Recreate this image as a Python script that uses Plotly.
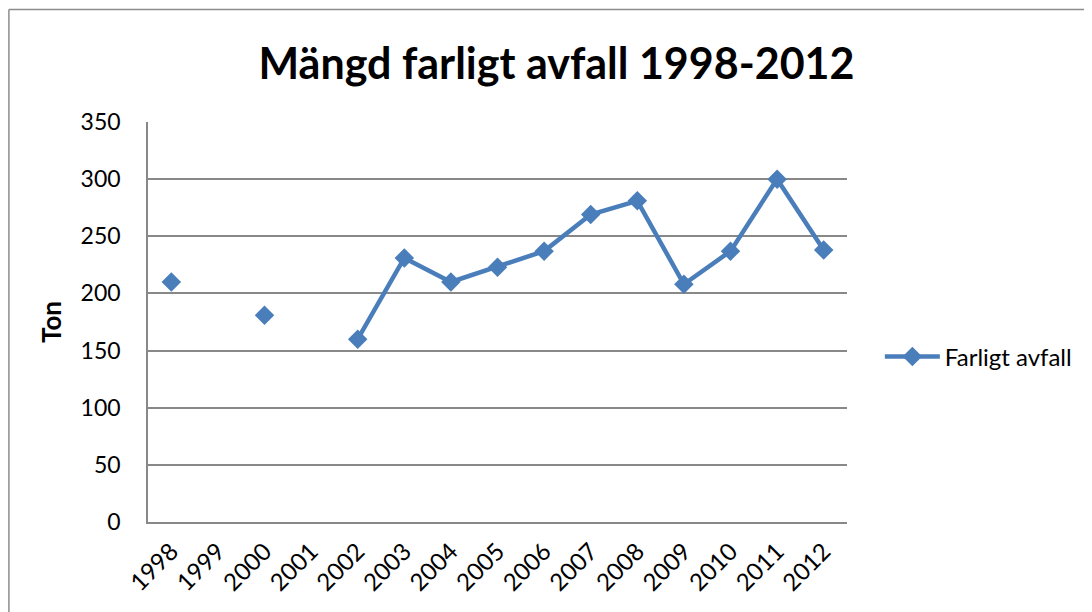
import plotly.graph_objects as go

years = [str(y) for y in range(1998, 2013)]
values = [210, None, 181, None, 160, 231, 210, 223, 237, 269, 281, 208, 237, 300, 238]
series_name = "Farligt avfall"
title_text = "Mängd farligt avfall 1998-2012"
y_title = "Ton"

FONT = "Lato, 'Open Sans', sans-serif"
BLUE = "#4A7EBB"
GRID = "#888888"
FRAME = "#8C8C8C"

fig = go.Figure()
fig.add_trace(go.Scatter(
    x=years, y=values, name=series_name, mode="lines+markers",
    connectgaps=False,
    line=dict(color=BLUE, width=4.5),
    marker=dict(symbol="diamond", size=15, color=BLUE),
))

fig.update_layout(
    width=1092, height=612,
    paper_bgcolor="white", plot_bgcolor="white",
    margin=dict(l=140, r=253, t=114, b=98),
    title=dict(text="<b>" + title_text + "</b>", x=0.5023, xanchor="center",
               y=0.908, yanchor="middle",
               font=dict(family=FONT, size=43, color="black")),
    font=dict(family=FONT, color="black"),
    showlegend=True,
    legend=dict(x=1.047, y=0.4125, xanchor="left", yanchor="middle",
                font=dict(size=24, color="black"), bgcolor="rgba(0,0,0,0)",
                itemwidth=55),
    xaxis=dict(type="category", range=[-0.5, 14.5], showgrid=False,
               showline=True, linecolor=GRID, linewidth=1.5,
               tickangle=-45, tickfont=dict(size=24, color="black"),
               ticks="outside", ticklen=4, tickcolor="rgba(0,0,0,0)", zeroline=False),
    yaxis=dict(range=[0, 350], dtick=50, showgrid=True, gridcolor=GRID,
               gridwidth=1.5, showline=True, linecolor=GRID, linewidth=1.5,
               ticks="", ticklabelstandoff=21,
               tickfont=dict(size=23, color="black"), zeroline=False,
               title=dict(text="<b>" + y_title + "</b>", font=dict(size=26, color="black"),
                          standoff=12)),
    shapes=[
        dict(type="line", xref="paper", yref="paper", x0=-0.199, x1=-0.199, y0=-0.3, y1=1.28125,
             line=dict(color=FRAME, width=1.5)),
        dict(type="line", xref="paper", yref="paper", x0=-0.199, x1=1.37, y0=1.28125, y1=1.28125,
             line=dict(color=FRAME, width=1.5)),
    ],
)

fig.write_html("out.html")
